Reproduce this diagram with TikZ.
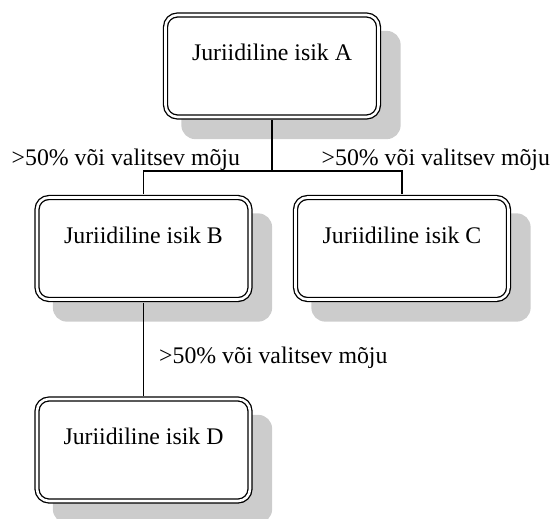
\documentclass[tikz,border=0pt]{standalone}
\usepackage{fontspec}
\setmainfont{Liberation Serif}
\usetikzlibrary{calc,backgrounds}
\begin{document}
\begin{tikzpicture}[x=1pt,y=-1pt,
 entity/.style={draw, line width=1.3pt, double, double distance=2.6pt, rounded corners=12pt, fill=white, minimum width=213pt, minimum height=102pt, inner sep=0pt, text height=17pt, text depth=28pt, font=\fontsize{23.8}{28}\selectfont},
 lab/.style={anchor=base west, inner sep=0pt, font=\fontsize{23.8}{28}\selectfont},
 conn/.style={line width=1.3pt},
 shade/.style={fill=black!20, rounded corners=14pt}]
\useasboundingbox (0,0) rectangle (554,519);
\node[entity] (A) at (272,66) {Juriidiline isik A};
\node[entity] (B) at (143.5,248.5) {Juriidiline isik B};
\node[entity] (C) at (402,248.5) {Juriidiline isik C};
\node[entity] (D) at (143.5,450) {Juriidiline isik D};
\node[lab] (l1) at (11.5,165) {>50\% või valitsev mõju};
\node[lab] (l2) at (321.5,165) {>50\% või valitsev mõju};
\node[lab] (l3) at (159,363) {>50\% või valitsev mõju};
\coordinate (j) at (272,171);
\draw[conn, shorten <=2.6pt] (A.south) -- (j);
\draw[conn, shorten <=2.6pt, shorten >=2.6pt] (B.north) |- (j) -| (C.north);
\draw[conn, shorten <=2.6pt, shorten >=2.6pt] (B.south) -- (D.north);
\begin{scope}[on background layer]
\foreach \n in {A,B,C,D}
  \fill[shade] ($(\n.north west)+(16.5,16.5)$) rectangle ($(\n.south east)+(21.5,21.5)$);
\end{scope}
\end{tikzpicture}
\end{document}
